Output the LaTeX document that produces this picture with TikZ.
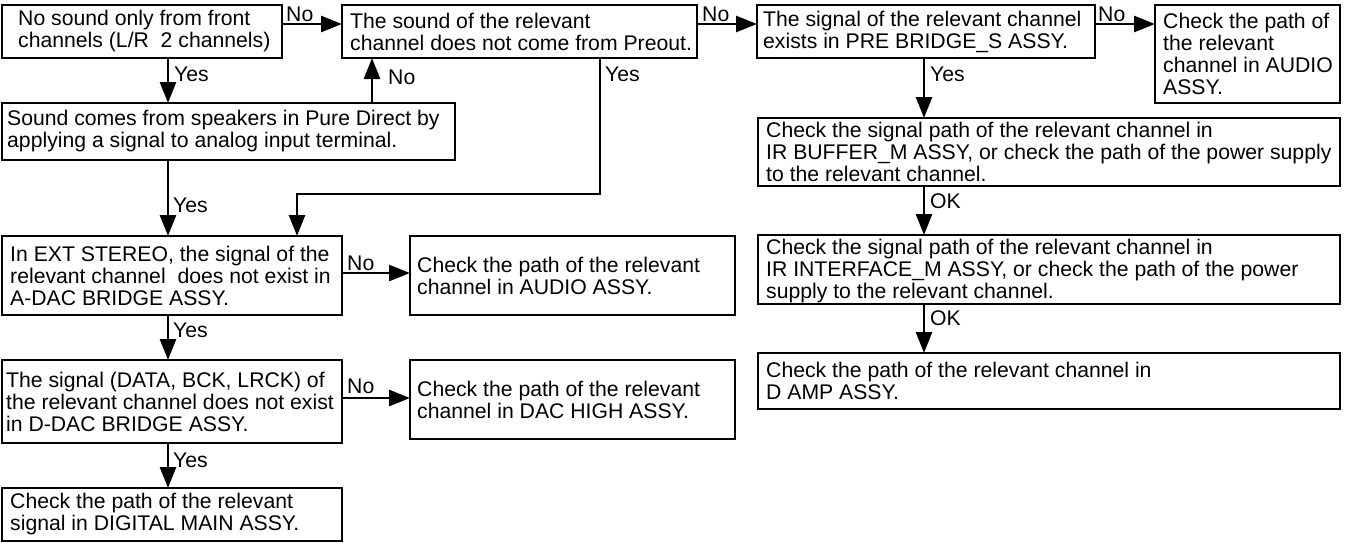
\documentclass[tikz,border=0pt]{standalone}
\usepackage{fontspec}
\setmainfont{Liberation Sans}
\usetikzlibrary{arrows.meta}
\newcommand\fsz{\fontsize{21.2}{22}\selectfont}
\begin{document}
\begin{tikzpicture}[x=1pt,y=-1pt,
  box/.style={draw, line width=1.4pt, anchor=north west, inner sep=0pt, outer sep=0pt},
  txt/.style={anchor=west, align=left, inner sep=0pt, font=\fsz},
  lbl/.style={anchor=base west, inner sep=0pt, font=\fsz},
  arr/.style={line width=2.6pt, -{Triangle[length=21pt,width=16pt]}}]
\useasboundingbox (0,0) rectangle (1345,544);
% boxes
\node[box, minimum width=280pt, minimum height=53pt] (A) at (2,5) {};
\node[box, minimum width=355pt, minimum height=53pt] (B) at (342,5) {};
\node[box, minimum width=338pt, minimum height=53pt] (C) at (757,5) {};
\node[box, minimum width=185pt, minimum height=98pt] (D) at (1155,5) {};
\node[box, minimum width=453pt, minimum height=57pt] (A2) at (2,103) {};
\node[box, minimum width=582pt, minimum height=68pt] (E) at (758,118) {};
\node[box, minimum width=582pt, minimum height=69pt] (F) at (758,235) {};
\node[box, minimum width=582pt, minimum height=56pt] (G) at (758,353) {};
\node[box, minimum width=340pt, minimum height=79pt] (H) at (2,236) {};
\node[box, minimum width=325pt, minimum height=79pt] (I) at (410,236) {};
\node[box, minimum width=340pt, minimum height=83pt] (J) at (2,360) {};
\node[box, minimum width=325pt, minimum height=79pt] (K) at (410,360) {};
\node[box, minimum width=340pt, minimum height=53pt] (L) at (2,488) {};
% texts
\node[txt] (tA) at ([xshift=16pt]A.west) {No sound only from front\\channels (L/R\ \ 2 channels)};
\node[txt] (tB) at ([xshift=8pt]B.west) {The sound of the relevant\\channel does not come from Preout.};
\node[txt] (tC) at ([xshift=6pt]C.west) {The signal of the relevant channel\\exists in PRE BRIDGE\_S ASSY.};
\node[txt] (tD) at ([xshift=8pt]D.west) {Check the path of\\the relevant\\channel in AUDIO\\ASSY.};
\node[txt] (tA2) at ([xshift=5pt]A2.west) {Sound comes from speakers in Pure Direct by\\applying a signal to analog input terminal.};
\node[txt] (tE) at ([xshift=8pt]E.west) {Check the signal path of the relevant channel in\\IR BUFFER\_M ASSY, or check the path of the power supply\\to the relevant channel.};
\node[txt] (tF) at ([xshift=8pt,yshift=-2pt]F.west) {Check the signal path of the relevant channel in\\IR INTERFACE\_M ASSY, or check the path of the power\\supply to the relevant channel.};
\node[txt] (tG) at ([xshift=8pt]G.west) {Check the path of the relevant channel in\\D AMP ASSY.};
\node[txt] (tH) at ([xshift=8pt]H.west) {In EXT STEREO, the signal of the\\relevant channel\ \ does not exist in\\A-DAC BRIDGE ASSY.};
\node[txt] (tI) at ([xshift=7pt]I.west) {Check the path of the relevant\\channel in AUDIO ASSY.};
\node[txt] (tJ) at ([xshift=4pt]J.west) {The signal (DATA, BCK, LRCK) of\\the relevant channel does not exist\\in D-DAC BRIDGE ASSY.};
\node[txt] (tK) at ([xshift=7pt]K.west) {Check the path of the relevant\\channel in DAC HIGH ASSY.};
\node[txt] (tL) at ([xshift=8pt]L.west) {Check the path of the relevant\\signal in DIGITAL MAIN ASSY.};
% helper coordinates
\coordinate (h24) at (0,24);
\coordinate (h273) at (0,273);
\coordinate (h398) at (0,398);
\coordinate (v168) at (168,0);
\coordinate (v372) at (372,0);
\coordinate (v924) at (924,0);
\coordinate (b1) at (600,194);
\coordinate (b2) at (297,194);
% connectors
\draw[arr] (A.east |- h24) -- (B.west |- h24);
\draw[arr] (B.east |- h24) -- (C.west |- h24);
\draw[arr] (C.east |- h24) -- (D.west |- h24);
\draw[arr] (A.south -| v168) -- (A2.north -| v168);
\draw[arr] (A2.north -| v372) -- (B.south -| v372);
\draw[arr] (A2.south -| v168) -- (H.north -| v168);
\draw[arr] (B.south -| b1) -- (b1) -- (b2) -- (H.north -| b2);
\draw[arr] (C.south -| v924) -- (E.north -| v924);
\draw[arr] (E.south -| v924) -- (F.north -| v924);
\draw[arr] (F.south -| v924) -- (G.north -| v924);
\draw[arr] (H.east |- h273) -- (I.west |- h273);
\draw[arr] (H.south -| v168) -- (J.north -| v168);
\draw[arr] (J.east |- h398) -- (K.west |- h398);
\draw[arr] (J.south -| v168) -- (L.north -| v168);
% labels
\node[lbl] (lNo1) at (286,21) {No};
\node[lbl] (lNo3) at (702,21) {No};
\node[lbl] (lNo4) at (1098,21) {No};
\node[lbl] (lYes1) at (174,81) {Yes};
\node[lbl] (lNo2) at (388,84) {No};
\node[lbl] (lYes2) at (605,81) {Yes};
\node[lbl] (lYes3) at (930,81) {Yes};
\node[lbl] (lOK1) at (930,208) {OK};
\node[lbl] (lOK2) at (930,325) {OK};
\node[lbl] (lYes4) at (173,212) {Yes};
\node[lbl] (lNo5) at (347,270) {No};
\node[lbl] (lYes5) at (173,337) {Yes};
\node[lbl] (lNo6) at (347,393) {No};
\node[lbl] (lYes6) at (173,467) {Yes};
\end{tikzpicture}
\end{document}
